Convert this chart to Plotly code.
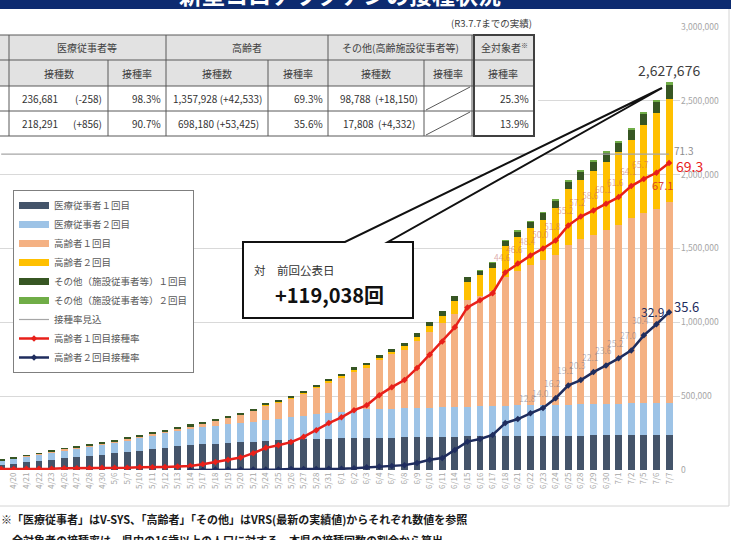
import plotly.graph_objects as go

# ---------------- data ----------------
dates = ["4/19", "4/20", "4/21", "4/22", "4/23", "4/26", "4/27", "4/28", "4/30", "5/6",
         "5/7", "5/10", "5/11", "5/12", "5/13", "5/14", "5/17", "5/18", "5/19", "5/20",
         "5/21", "5/24", "5/25", "5/26", "5/27", "5/28", "5/31", "6/1", "6/2", "6/3",
         "6/4", "6/7", "6/8", "6/9", "6/10", "6/11", "6/14", "6/15", "6/16", "6/17",
         "6/18", "6/21", "6/22", "6/23", "6/24", "6/25", "6/28", "6/29", "6/30", "7/1",
         "7/2", "7/5", "7/6", "7/7"]

med1 = [34000, 43000, 52000, 61000, 71000, 81000, 89000, 97000, 105000, 114000,
        122000, 132000, 142000, 152000, 161000, 170000, 175000, 179000, 184000, 188000,
        192000, 196000, 200000, 203000, 207000, 210000, 212000, 214000, 216000, 217000,
        219000, 220000, 221000, 222000, 223000, 225000, 226000, 227000, 228000, 229000,
        230000, 231000, 231500, 232000, 232500, 233000, 233500, 234000, 234500, 235000,
        235500, 236200, 236939, 236681]
med2 = [29000, 33000, 37000, 42000, 47000, 54000, 58000, 62000, 66000, 72000,
        80000, 86000, 92000, 98000, 104000, 110000, 115000, 120000, 125000, 130000,
        135000, 141000, 148000, 155000, 162000, 170000, 176000, 182000, 188000, 193000,
        195000, 196000, 197000, 198000, 199000, 200000, 201000, 202000, 203000, 204000,
        205000, 206000, 207000, 208000, 209000, 210500, 211500, 212500, 213500, 214500,
        215500, 216500, 217435, 218291]
eld1 = [3900, 3900, 5900, 5900, 5900, 7800, 7800, 7800, 9800, 9800,
        9800, 11800, 11800, 13700, 15700, 17600, 25500, 35300, 45100, 54900,
        74500, 98000, 109700, 123400, 147000, 176400, 207700, 233200, 264500, 286100,
        331200, 366400, 397800, 450700, 509500, 568300, 631000, 719100, 750500, 781800,
        873900, 913100, 948400, 979800, 1015000, 1081600, 1120800, 1148300, 1177700, 1207100,
        1256000, 1287400, 1315395, 1357928]
eld2 = [0] * 15 + [300, 600, 1960, 1960, 1960, 1960, 1960, 1960, 3920, 3920,
                   3920, 5880, 5880, 7840, 11770, 15690, 17650, 21570, 31380, 45110,
                   52950, 88250, 125500, 137300, 154900, 207900, 225500, 251000, 274600, 317700,
                   374600, 398100, 433400, 462800, 494200, 529500, 596200, 644755, 698180]
oth1 = [3000, 3500, 4000, 4500, 5000, 5500, 6000, 6500, 7000, 7500,
        8000, 8500, 9000, 9500, 10000, 10500, 11000, 11500, 12000, 12500,
        13000, 13500, 14000, 14500, 15000, 15500, 16000, 17000, 18000, 19000,
        20000, 21500, 23000, 24500, 26000, 28000, 30000, 32000, 34000, 36000,
        38000, 41000, 44000, 47000, 50000, 53000, 56000, 59000, 62000, 66000,
        70000, 75000, 80638, 98788]
oth2 = [0] * 38 + [500, 1000, 1500, 2000, 3000, 4000, 5000, 6000, 7000, 8000,
                   9000, 10000, 11000, 12000, 13476, 17808]

rate1 = [0.2, 0.2, 0.3, 0.3, 0.3, 0.4, 0.4, 0.4, 0.5, 0.5,
         0.5, 0.6, 0.6, 0.7, 0.8, 0.9, 1.3, 1.8, 2.3, 2.8,
         3.8, 5.0, 5.6, 6.3, 7.5, 9.0, 10.6, 11.9, 13.5, 14.6,
         16.9, 18.7, 20.3, 23.0, 26.0, 29.0, 32.2, 36.7, 38.3, 39.9,
         44.6, 46.6, 48.4, 50.0, 51.8, 55.2, 57.2, 58.6, 60.1, 61.6,
         64.1, 65.7, 67.1, 69.3]
rate2 = [None] * 15 + [0.0, 0.0, 0.1, 0.1, 0.1, 0.1, 0.1, 0.1, 0.2, 0.2,
                       0.2, 0.3, 0.3, 0.4, 0.6, 0.8, 0.9, 1.1, 1.6, 2.3,
                       2.7, 4.5, 6.4, 7.0, 7.9, 10.6, 11.5, 12.8, 14.0, 16.2,
                       19.1, 20.3, 22.1, 23.6, 25.2, 27.0, 30.4, 32.9, 35.6]
expected_rate = 71.3

y_ticks = [0, 500000, 1000000, 1500000, 2000000, 2500000, 3000000]

series_names = ["医療従事者１回目", "医療従事者２回目", "高齢者１回目", "高齢者２回目",
                "その他（施設従事者等）１回目", "その他（施設従事者等）２回目"]
line_names = ["接種率見込", "高齢者１回目接種率", "高齢者２回目接種率"]

title_text = "新型コロナワクチンの接種状況"
as_of_text = "(R3.7.7までの実績)"
table_groups = ["医療従事者等", "高齢者", "その他(高齢施設従事者等)", "全対象者<sup>※</sup>"]
table_sub = ["接種数", "接種率", "接種数", "接種率", "接種数", "接種率", "接種率"]
table_rows = [
    ["236,681", "(-258)", "98.3%", "1,357,928 (+42,533)", "69.3%", "98,788  (+18,150)", "25.3%"],
    ["218,291", "(+856)", "90.7%", "698,180 (+53,425)", "35.6%", "17,808  (+4,332)", "13.9%"],
]
callout_title = "対　前回公表日"
foot1 = "※「医療従事者」はV-SYS、「高齢者」「その他」はVRS(最新の実績値)からそれぞれ数値を参照"
foot2 = "　全対象者の接種率は、県内の16歳以上の人口に対する、本県の接種回数の割合から算出"

# ---------------- styling ----------------
FONT = "Noto Sans CJK JP"
bar_colors = ["#44546a", "#9dc3e6", "#f4b183", "#ffc000", "#375623", "#70ad47"]
RED = "#e8201a"
NAVY = "#1f2d5e"

W, H = 731, 540
PL, PR, PT, PB = 0, 680, 27, 470


def fx(p):
    return (p - PL) / (PR - PL)


def fy(p):
    return (PB - p) / (PB - PT)


x = list(range(len(dates)))
fig = go.Figure()

for k, (vals, name, col) in enumerate(zip([med1, med2, eld1, eld2, oth1, oth2], series_names, bar_colors)):
    fig.add_trace(go.Bar(x=x, y=vals, name=name, marker=dict(color=col, line_width=0),
                         width=0.55, yaxis="y", legendgroup=f"g{k}", showlegend=False))
    # legend swatch (flat bar as in the original legend)
    fig.add_trace(go.Scatter(x=[None], y=[None], name=name, mode="lines",
                             line=dict(color=col, width=7), legendgroup=f"g{k}", yaxis="y"))

fig.add_trace(go.Scatter(x=[x[0], x[-1]], y=[expected_rate, expected_rate], name=line_names[0],
                         mode="lines", line=dict(color="#a6a6a6", width=1.2), yaxis="y2"))
fig.add_trace(go.Scatter(x=x, y=rate1, name=line_names[1], mode="lines+markers",
                         line=dict(color=RED, width=2.5),
                         marker=dict(symbol="diamond", size=5, color=RED), yaxis="y2"))
fig.add_trace(go.Scatter(x=x, y=rate2, name=line_names[2], mode="lines+markers",
                         line=dict(color=NAVY, width=2.5),
                         marker=dict(symbol="diamond", size=5, color=NAVY), yaxis="y2"))

totals = [sum(v) for v in zip(med1, med2, eld1, eld2, oth1, oth2)]
diff = totals[-1] - totals[-2]

shapes = []
ann = []


def line(x0, y0, x1, y1, color="#595959", width=1):
    shapes.append(dict(type="line", xref="paper", yref="paper", x0=fx(x0), y0=fy(y0),
                       x1=fx(x1), y1=fy(y1), line=dict(color=color, width=width), layer="above"))


def rect(x0, y0, x1, y1, fill, lc="rgba(0,0,0,0)", lw=0):
    shapes.append(dict(type="rect", xref="paper", yref="paper", x0=fx(x0), y0=fy(y0),
                       x1=fx(x1), y1=fy(y1), fillcolor=fill, line=dict(color=lc, width=lw),
                       layer="above"))


def text(px, py, s, size=10, color="#333333", anchor="center", bold=False):
    if bold:
        s = "<b>" + s + "</b>"
    ann.append(dict(xref="paper", yref="paper", x=fx(px), y=fy(py), text=s, showarrow=False,
                    xanchor=anchor, yanchor="middle", font=dict(size=size, color=color, family=FONT)))


# title band
rect(-10, -5, 745, 9, "#0d2b70")
ann.append(dict(xref="paper", yref="paper", x=fx(340), y=fy(12), text="<b>" + title_text + "</b>",
                showarrow=False, xanchor="center", yanchor="bottom", borderpad=0,
                font=dict(size=23, color="white", family=FONT)))

# frame
line(729, 9, 729, 506, "#d4d4d4", 1)
line(-5, 506, 729, 506, "#d4d4d4", 1)

# table
cols = [9, 108, 166, 268, 328, 424, 472, 534]
rows = [35, 60, 86, 111, 136]
rect(-5, 12, 538, 139, "white")
rect(-5, rows[0], cols[-1], rows[2], "#e2e2e2")
for ry in rows:
    line(-5, ry, cols[-1], ry)
for cx in [cols[0], cols[2], cols[4], cols[6], cols[7]]:
    line(cx, rows[0], cx, rows[1])
for cx in cols:
    line(cx, rows[1], cx, rows[4])
rect(cols[6] + 2, rows[0], cols[7], rows[4], "rgba(0,0,0,0)", "#404040", 2)
line(cols[5] + 2, rows[3] - 1, cols[6] - 2, rows[2] + 1)
line(cols[5] + 2, rows[4] - 1, cols[6] - 2, rows[3] + 1)

text(cols[7], 23, as_of_text, 9.5, "#404040", "right")
gx = [(cols[0] + cols[2]) / 2, (cols[2] + cols[4]) / 2, (cols[4] + cols[6]) / 2, (cols[6] + cols[7]) / 2 + 1]
for g, cx in zip(table_groups, gx):
    text(cx, (rows[0] + rows[1]) / 2, g, 10, "#404040")
for i, s in enumerate(table_sub):
    text((cols[i] + cols[i + 1]) / 2, (rows[1] + rows[2]) / 2, s, 10, "#404040")
for r, vals in enumerate(table_rows):
    yy = (rows[2 + r] + rows[3 + r]) / 2
    text(cols[0] + 11, yy, vals[0], 10, "#333333", "left")
    text(cols[1] - 4, yy, vals[1], 10, "#333333", "right")
    text(cols[2] - 3, yy, vals[2], 10, "#333333", "right")
    text((cols[2] + cols[3]) / 2 + 1, yy, vals[3], 10, "#333333")
    text(cols[4] - 3, yy, vals[4], 10, "#333333", "right")
    text((cols[4] + cols[5]) / 2 + 3, yy, vals[5], 10, "#333333")
    text(cols[7] - 3, yy, vals[6], 10, "#333333", "right")

# callout
pts = [(243, 242), (345, 242), (662, 88), (388, 242), (413, 242), (413, 318), (243, 318)]
path = "M " + " L ".join(f"{fx(a):.5f},{fy(b):.5f}" for a, b in pts) + " Z"
shapes.append(dict(type="path", xref="paper", yref="paper", path=path, fillcolor="white",
                   line=dict(color="#111111", width=2), layer="above"))
text(252, 270, callout_title, 11.5, "#333333", "left")
text(329, 294, f"+{diff:,}回", 20, "#111111", "center", bold=True)

# footnotes
text(-1, 519, foot1, 11, "#1a1a1a", "left", bold=True)
text(-1, 540, foot2, 11, "#1a1a1a", "left", bold=True)

# data labels
n = len(dates) - 1
ann.append(dict(x=n, y=totals[-1], xref="x", yref="y", text=f"{totals[-1]:,}", showarrow=False,
                yshift=12, xshift=0, font=dict(size=14, color="#404040", family=FONT)))
ann.append(dict(x=n, y=expected_rate, xref="x", yref="y2", text=f"{expected_rate}", showarrow=False,
                xshift=14, yshift=4, font=dict(size=10, color="#8c8c8c", family=FONT)))
ann.append(dict(x=n, y=rate1[n], xref="x", yref="y2", text=f"{rate1[n]}", showarrow=False,
                xshift=20, yshift=-3, font=dict(size=14, color=RED, family=FONT)))
ann.append(dict(x=n - 1, y=rate1[n - 1], xref="x", yref="y2", text=f"{rate1[n - 1]}", showarrow=False,
                xshift=6, yshift=-12, font=dict(size=11, color="rgba(210,40,40,0.85)", family=FONT)))
ann.append(dict(x=n, y=rate2[n], xref="x", yref="y2", text=f"{rate2[n]}", showarrow=False,
                xshift=17, yshift=6, font=dict(size=13, color=NAVY, family=FONT)))
ann.append(dict(x=n - 1, y=rate2[n - 1], xref="x", yref="y2", text=f"{rate2[n - 1]}", showarrow=False,
                xshift=-4, yshift=13, font=dict(size=12, color=NAVY, family=FONT)))
for i in range(40, n - 1):
    ann.append(dict(x=i, y=rate1[i], xref="x", yref="y2", text=f"{rate1[i]}", showarrow=False,
                    xshift=-3, yshift=15, font=dict(size=8.5, color="rgba(190,90,90,0.5)", family=FONT)))
for i in range(42, n - 1):
    ann.append(dict(x=i, y=rate2[i], xref="x", yref="y2", text=f"{rate2[i]}", showarrow=False,
                    xshift=-3, yshift=15, font=dict(size=8.5, color="rgba(90,100,130,0.45)", family=FONT)))

fig.update_layout(
    width=W, height=H,
    margin=dict(l=PL, r=W - PR, t=PT, b=H - PB, pad=0),
    paper_bgcolor="white", plot_bgcolor="white",
    font=dict(family=FONT),
    barmode="stack", bargap=0.45,
    showlegend=True,
    legend=dict(x=fx(13), y=fy(190), xanchor="left", yanchor="top", bgcolor="white",
                bordercolor="#7f7f7f", borderwidth=1, traceorder="normal",
                font=dict(size=9.5, color="#595959", family=FONT), itemwidth=30,
                tracegroupgap=0),
    xaxis=dict(range=[-0.095, 53.87], tickmode="array", tickvals=x, ticktext=dates,
               tickangle=-90, tickfont=dict(size=8, color="#a6a6a6"), showgrid=False,
               zeroline=False, showline=False, ticks=""),
    yaxis=dict(range=[0, 3000000], side="right", tickmode="array", tickvals=y_ticks,
               tickformat=",", tickfont=dict(size=8.5, color="#a6a6a6"),
               gridcolor="#d9d9d9", gridwidth=1, zeroline=False, showline=False, ticks=""),
    yaxis2=dict(range=[0, 100], overlaying="y", side="right", visible=False, showgrid=False),
    shapes=shapes,
    annotations=ann,
)

fig.write_html("out.html", config={"displayModeBar": False},
               post_script="document.body.style.margin='0';document.body.style.overflow='hidden';")
